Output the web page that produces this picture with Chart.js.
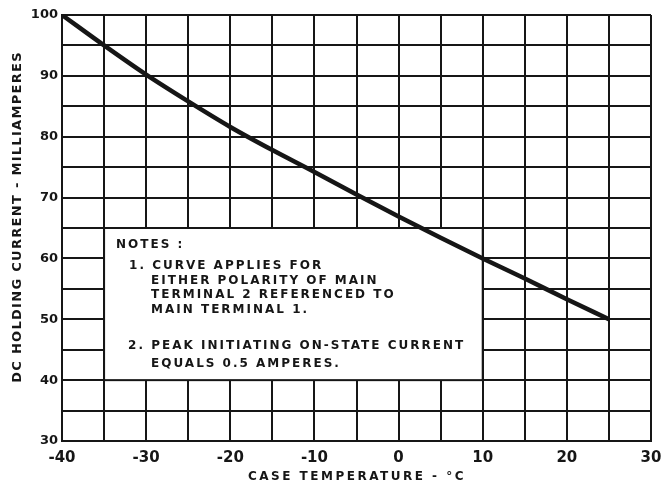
<!DOCTYPE html>
<html>
<head>
<meta charset="utf-8">
<script src="https://cdn.jsdelivr.net/npm/chart.js@4.4.1/dist/chart.umd.min.js"></script>
<style>
  html, body { margin: 0; padding: 0; background: #fff; }
  #wrap { width: 663px; height: 488px; }
</style>
</head>
<body>
<div id="wrap"><canvas id="holdingChart"></canvas></div>
<script>
// temperature (°C) and holding current (mA)
var caseTemp = [-40, -35, -30, -25, -20, -15, -10, -5, 0, 5, 10, 15, 20, 25];
var holdingCurrent = [100, 95, 90.2, 85.8, 81.6, 77.8, 74.2, 70.5, 66.9, 63.4, 60, 56.7, 53.3, 50];

var xTicks = [-40, -30, -20, -10, 0, 10, 20, 30];
var yTicks = [30, 40, 50, 60, 70, 80, 90, 100];

var xTitle = 'CASE TEMPERATURE - °C';
var yTitle = 'DC HOLDING CURRENT - MILLIAMPERES';

var notesLines = [
    'NOTES :',
    '1. CURVE APPLIES FOR',
    'EITHER POLARITY OF MAIN',
    'TERMINAL 2 REFERENCED TO',
    'MAIN TERMINAL 1.',
    '2. PEAK INITIATING ON-STATE CURRENT',
    'EQUALS 0.5 AMPERES.'
];

var INK = '#161616';
var FONT = '"DejaVu Sans", sans-serif';

// notes box sits on grid lines: x -35..10, y 40..65
var notesBox = { x0: -35, x1: 10, y0: 40, y1: 65 };
// offsets of each text line inside the box (px from box left/top)
var notesOffsets = [[12, 17], [25, 38], [47, 53], [47, 67], [47, 82], [24, 118], [47, 136]];

var notesPlugin = {
    id: 'notes',
    beforeDatasetsDraw: function (chart) {
        var ctx = chart.ctx;
        var xs = chart.scales.x, ys = chart.scales.y;
        var left = xs.getPixelForValue(notesBox.x0);
        var right = xs.getPixelForValue(notesBox.x1);
        var top = ys.getPixelForValue(notesBox.y1);
        var bottom = ys.getPixelForValue(notesBox.y0);
        ctx.save();
        ctx.fillStyle = '#fff';
        ctx.fillRect(left, top, right - left, bottom - top);
        ctx.strokeStyle = INK;
        ctx.lineWidth = 2;
        ctx.strokeRect(left, top, right - left, bottom - top);
        ctx.fillStyle = INK;
        ctx.font = 'bold 12px ' + FONT;
        ctx.letterSpacing = '2px';
        ctx.textBaseline = 'middle';
        ctx.textAlign = 'left';
        notesLines.forEach(function (line, i) {
            ctx.fillText(line, left + notesOffsets[i][0], top + notesOffsets[i][1]);
        });
        ctx.restore();
    },
    afterDraw: function (chart) {
        var ctx = chart.ctx;
        ctx.save();
        ctx.fillStyle = INK;
        ctx.textAlign = 'center';
        ctx.textBaseline = 'middle';
        ctx.font = 'bold 12px ' + FONT;
        ctx.letterSpacing = '2.5px';
        ctx.fillText(xTitle, 357, 477);
        ctx.font = 'bold 13px ' + FONT;
        ctx.letterSpacing = '1.3px';
        ctx.translate(18, 217);
        ctx.rotate(-Math.PI / 2);
        ctx.fillText(yTitle, 0, 0);
        ctx.restore();
    }
};

var ctx = document.getElementById('holdingChart').getContext('2d');
var holdingChart = new Chart(ctx, {
    type: 'line',
    data: {
        datasets: [{
            data: caseTemp.map(function (t, i) { return { x: t, y: holdingCurrent[i] }; }),
            borderColor: INK,
            borderWidth: 4.5,
            pointRadius: 0,
            cubicInterpolationMode: 'monotone',
            fill: false
        }]
    },
    options: {
        responsive: true,
        maintainAspectRatio: false,
        animation: false,
        layout: { padding: { left: 0, right: 12, top: 15, bottom: 0 } },
        plugins: {
            legend: { display: false },
            tooltip: { enabled: false }
        },
        scales: {
            x: {
                type: 'linear',
                min: -40,
                max: 30,
                afterFit: function (scale) {
                    scale.height = 47;
                    scale.paddingLeft = 0;
                    scale.paddingRight = 0;
                },
                grid: { color: INK, lineWidth: 2, drawTicks: false },
                border: { color: INK, width: 2 },
                ticks: {
                    stepSize: 5,
                    autoSkip: false,
                    maxRotation: 0,
                    padding: 8,
                    color: INK,
                    font: { family: FONT, weight: 'bold', size: 15 },
                    callback: function (value) {
                        return xTicks.indexOf(value) >= 0 ? String(value) : '';
                    }
                }
            },
            y: {
                min: 30,
                max: 100,
                afterFit: function (scale) { scale.width = 62; },
                grid: { color: INK, lineWidth: 2, drawTicks: false },
                border: { color: INK, width: 2 },
                ticks: {
                    stepSize: 5,
                    autoSkip: false,
                    padding: 4,
                    color: INK,
                    font: { family: FONT, weight: 'bold', size: 13 },
                    callback: function (value) {
                        return yTicks.indexOf(value) >= 0 ? String(value) : '';
                    }
                }
            }
        }
    },
    plugins: [notesPlugin]
});
</script>
</body>
</html>
